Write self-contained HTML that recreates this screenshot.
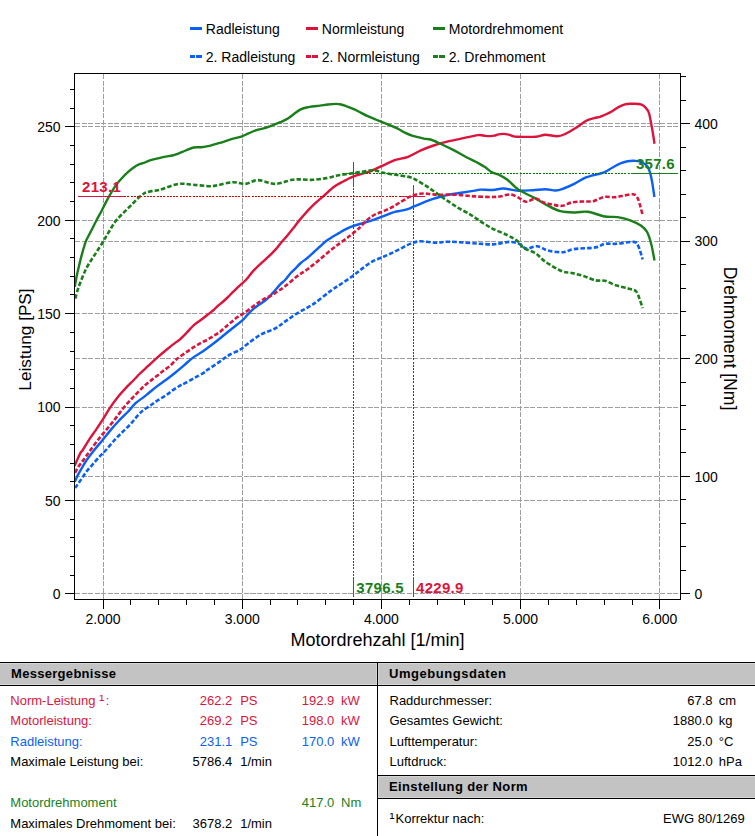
<!DOCTYPE html>
<html><head><meta charset="utf-8"><title>Leistungsdiagramm</title>
<style>
html,body{margin:0;padding:0;background:#fff;}
body{width:755px;height:836px;position:relative;overflow:hidden;font-family:"Liberation Sans", sans-serif;}
.hd{position:absolute;height:22px;background:#c3c3c3;border-top:1px solid #000;border-bottom:1px solid #000;box-shadow:inset 0 0 0 1px #d6d6d6;}
.hd span{position:absolute;top:3px;font-weight:bold;font-size:13px;line-height:16px;color:#000;}
.vl{position:absolute;width:1px;background:#000;}
.t{position:absolute;font-size:13px;line-height:15px;white-space:nowrap;}
</style></head>
<body>
<svg width="755" height="655" viewBox="0 0 755 655" style="position:absolute;left:0;top:0"><defs><clipPath id="pc"><rect x="75" y="74" width="605" height="525"/></clipPath></defs><g stroke="#9e9e9e" stroke-width="1" stroke-dasharray="5,1.5" shape-rendering="crispEdges"><line x1="103.5" y1="74" x2="103.5" y2="599" /><line x1="242.5" y1="74" x2="242.5" y2="599" /><line x1="381.5" y1="74" x2="381.5" y2="599" /><line x1="520.5" y1="74" x2="520.5" y2="599" /><line x1="659.5" y1="74" x2="659.5" y2="599" /><line x1="75" y1="593.5" x2="680" y2="593.5" /><line x1="75" y1="500.5" x2="680" y2="500.5" /><line x1="75" y1="407.5" x2="680" y2="407.5" /><line x1="75" y1="313.5" x2="680" y2="313.5" /><line x1="75" y1="220.5" x2="680" y2="220.5" /><line x1="75" y1="126.5" x2="680" y2="126.5" /><line x1="75" y1="476.5" x2="680" y2="476.5" /><line x1="75" y1="358.5" x2="680" y2="358.5" /><line x1="75" y1="241.5" x2="680" y2="241.5" /><line x1="75" y1="123.5" x2="680" y2="123.5" /></g><g clip-path="url(#pc)"><path d="M74.80,481.80 C75.32,480.65 76.67,477.28 77.90,474.90 C79.13,472.52 80.68,470.07 82.20,467.50 C83.72,464.93 85.05,462.33 87.00,459.50 C88.95,456.67 91.20,453.87 93.90,450.50 C96.60,447.13 100.42,442.70 103.20,439.30 C105.98,435.90 107.98,433.18 110.60,430.10 C113.22,427.02 115.97,423.90 118.90,420.80 C121.83,417.70 125.42,414.43 128.20,411.50 C130.98,408.57 133.13,405.52 135.60,403.20 C138.07,400.88 140.85,399.27 143.00,397.60 C145.15,395.93 146.13,395.12 148.50,393.20 C150.87,391.28 154.20,388.38 157.20,386.10 C160.20,383.82 163.40,381.82 166.50,379.50 C169.60,377.18 172.93,374.52 175.80,372.20 C178.67,369.88 180.83,368.03 183.70,365.60 C186.57,363.17 189.90,359.92 193.00,357.60 C196.10,355.28 199.22,353.80 202.30,351.70 C205.38,349.60 208.42,347.33 211.50,345.00 C214.58,342.67 217.72,340.17 220.80,337.70 C223.88,335.23 227.27,332.40 230.00,330.20 C232.73,328.00 235.10,326.17 237.20,324.50 C239.30,322.83 240.82,321.88 242.60,320.20 C244.38,318.52 246.05,316.32 247.90,314.40 C249.75,312.48 251.67,310.43 253.70,308.70 C255.73,306.97 257.95,305.55 260.10,304.00 C262.25,302.45 264.45,301.30 266.60,299.40 C268.75,297.50 270.77,295.05 273.00,292.60 C275.23,290.15 277.98,286.80 280.00,284.70 C282.02,282.60 283.42,281.82 285.10,280.00 C286.78,278.18 288.43,275.67 290.10,273.80 C291.77,271.93 293.32,270.60 295.10,268.80 C296.88,267.00 298.77,264.80 300.80,263.00 C302.83,261.20 305.27,259.67 307.30,258.00 C309.33,256.33 310.88,254.92 313.00,253.00 C315.12,251.08 317.75,248.53 320.00,246.50 C322.25,244.47 323.65,242.85 326.50,240.80 C329.35,238.75 333.78,236.18 337.10,234.20 C340.42,232.22 343.53,230.33 346.40,228.90 C349.27,227.47 351.43,226.60 354.30,225.60 C357.17,224.60 360.28,223.90 363.60,222.90 C366.92,221.90 370.67,220.82 374.20,219.60 C377.73,218.38 381.98,216.67 384.80,215.60 C387.62,214.53 389.40,213.83 391.10,213.20 C392.80,212.57 393.28,212.22 395.00,211.80 C396.72,211.38 399.28,211.15 401.40,210.70 C403.52,210.25 405.68,209.77 407.70,209.10 C409.72,208.43 411.38,207.58 413.50,206.70 C415.62,205.82 418.18,204.72 420.40,203.80 C422.62,202.88 424.68,202.02 426.80,201.20 C428.92,200.38 430.98,199.60 433.10,198.90 C435.22,198.20 437.37,197.58 439.50,197.00 C441.63,196.42 443.43,195.93 445.90,195.40 C448.37,194.87 451.48,194.28 454.30,193.80 C457.12,193.32 459.35,193.03 462.80,192.50 C466.25,191.97 472.10,191.08 475.00,190.60 C477.90,190.12 477.22,189.70 480.20,189.60 C483.18,189.50 489.02,190.18 492.90,190.00 C496.78,189.82 499.27,188.38 503.50,188.50 C507.73,188.62 513.43,190.42 518.30,190.70 C523.17,190.98 528.18,190.45 532.70,190.20 C537.22,189.95 541.58,189.15 545.40,189.20 C549.22,189.25 552.57,190.62 555.60,190.50 C558.63,190.38 560.50,189.60 563.60,188.50 C566.70,187.40 570.67,185.67 574.20,183.90 C577.73,182.13 582.17,179.18 584.80,177.90 C587.43,176.62 588.15,176.73 590.00,176.20 C591.85,175.67 594.23,175.13 595.90,174.70 C597.57,174.27 598.45,174.08 600.00,173.60 C601.55,173.12 603.02,172.87 605.20,171.80 C607.38,170.73 610.45,168.63 613.10,167.20 C615.75,165.77 618.67,164.20 621.10,163.20 C623.53,162.20 625.28,161.58 627.70,161.20 C630.12,160.82 633.17,160.68 635.60,160.90 C638.03,161.12 640.32,161.57 642.30,162.50 C644.28,163.43 646.18,164.73 647.50,166.50 C648.82,168.27 649.42,170.45 650.20,173.10 C650.98,175.75 651.50,178.42 652.20,182.40 C652.90,186.38 654.03,194.57 654.40,197.00" fill="none" stroke="#0a5ff5" stroke-width="2.4" stroke-linejoin="round"/><path d="M74.60,465.90 C74.98,465.02 75.90,462.82 76.90,460.60 C77.90,458.38 79.62,454.37 80.60,452.60 C81.58,450.83 81.35,452.22 82.80,450.00 C84.25,447.78 87.13,442.62 89.30,439.30 C91.47,435.98 93.48,433.50 95.80,430.10 C98.12,426.70 100.73,422.77 103.20,418.90 C105.67,415.03 107.98,410.75 110.60,406.90 C113.22,403.05 116.27,399.05 118.90,395.80 C121.53,392.55 123.92,390.03 126.40,387.40 C128.88,384.77 131.53,382.32 133.80,380.00 C136.07,377.68 137.65,375.80 140.00,373.50 C142.35,371.20 145.03,368.85 147.90,366.20 C150.77,363.55 154.10,360.35 157.20,357.60 C160.30,354.85 163.40,352.23 166.50,349.70 C169.60,347.17 173.55,344.12 175.80,342.40 C178.05,340.68 178.10,341.10 180.00,339.40 C181.90,337.70 184.93,334.53 187.20,332.20 C189.47,329.87 191.33,327.43 193.60,325.40 C195.87,323.37 198.52,321.73 200.80,320.00 C203.08,318.27 205.15,316.67 207.30,315.00 C209.45,313.33 212.12,311.37 213.70,310.00 C215.28,308.63 214.95,308.47 216.80,306.80 C218.65,305.13 222.60,301.97 224.80,300.00 C227.00,298.03 227.93,297.02 230.00,295.00 C232.07,292.98 234.57,290.40 237.20,287.90 C239.83,285.40 243.03,282.92 245.80,280.00 C248.57,277.08 250.47,273.88 253.80,270.40 C257.13,266.92 263.10,261.63 265.80,259.10 C268.50,256.57 268.35,256.82 270.00,255.20 C271.65,253.58 273.78,251.57 275.70,249.40 C277.62,247.23 279.58,244.47 281.50,242.20 C283.42,239.93 285.28,238.07 287.20,235.80 C289.12,233.53 290.87,231.30 293.00,228.60 C295.13,225.90 296.85,223.30 300.00,219.60 C303.15,215.90 307.93,210.37 311.90,206.40 C315.87,202.43 320.05,199.12 323.80,195.80 C327.55,192.48 331.08,188.93 334.40,186.50 C337.72,184.07 340.60,182.85 343.70,181.20 C346.80,179.55 349.98,177.83 353.00,176.60 C356.02,175.37 359.02,174.65 361.80,173.80 C364.58,172.95 367.05,172.48 369.70,171.50 C372.35,170.52 375.05,169.10 377.70,167.90 C380.35,166.70 382.65,165.63 385.60,164.30 C388.55,162.97 391.65,161.15 395.40,159.90 C399.15,158.65 403.85,158.38 408.10,156.80 C412.35,155.22 416.65,152.28 420.90,150.40 C425.15,148.52 429.37,146.92 433.60,145.50 C437.83,144.08 441.72,143.03 446.30,141.90 C450.88,140.77 455.80,139.83 461.10,138.70 C466.40,137.57 474.07,135.57 478.10,135.10 C482.13,134.63 483.22,135.73 485.30,135.90 C487.38,136.07 489.10,136.13 490.60,136.10 C492.10,136.07 492.98,135.98 494.30,135.70 C495.62,135.42 497.00,134.70 498.50,134.40 C500.00,134.10 501.62,133.87 503.30,133.90 C504.98,133.93 507.02,134.25 508.60,134.60 C510.18,134.95 511.38,135.65 512.80,136.00 C514.22,136.35 513.25,136.58 517.10,136.70 C520.95,136.82 531.22,137.03 535.90,136.70 C540.58,136.37 541.67,134.77 545.20,134.70 C548.73,134.63 553.80,136.40 557.10,136.30 C560.40,136.20 561.92,135.47 565.00,134.10 C568.08,132.73 572.07,130.32 575.60,128.10 C579.13,125.88 583.10,122.45 586.20,120.80 C589.30,119.15 591.90,118.87 594.20,118.20 C596.50,117.53 598.10,117.42 600.00,116.80 C601.90,116.18 603.58,115.43 605.60,114.50 C607.62,113.57 609.95,112.43 612.10,111.20 C614.25,109.97 616.35,108.25 618.50,107.10 C620.65,105.95 622.83,104.85 625.00,104.30 C627.17,103.75 629.18,103.85 631.50,103.80 C633.82,103.75 636.88,103.68 638.90,104.00 C640.92,104.32 642.20,104.73 643.60,105.70 C645.00,106.67 646.38,108.50 647.30,109.80 C648.22,111.10 648.57,111.80 649.10,113.50 C649.63,115.20 650.03,117.68 650.50,120.00 C650.97,122.32 651.43,124.77 651.90,127.40 C652.37,130.03 652.87,133.08 653.30,135.80 C653.73,138.52 654.30,142.38 654.50,143.70" fill="none" stroke="#dc143c" stroke-width="2.4" stroke-linejoin="round"/><path d="M74.80,286.90 C75.12,285.08 75.97,279.63 76.70,276.00 C77.43,272.37 78.37,268.58 79.20,265.10 C80.03,261.62 80.80,258.45 81.70,255.10 C82.60,251.75 83.82,247.52 84.60,245.00 C85.38,242.48 85.30,242.37 86.40,240.00 C87.50,237.63 89.60,233.93 91.20,230.80 C92.80,227.67 94.25,224.55 96.00,221.20 C97.75,217.85 99.95,214.05 101.70,210.70 C103.45,207.35 104.90,204.13 106.50,201.10 C108.10,198.07 109.70,195.20 111.30,192.50 C112.90,189.80 114.35,187.28 116.10,184.90 C117.85,182.52 119.88,180.28 121.80,178.20 C123.72,176.12 125.68,174.15 127.60,172.40 C129.52,170.65 131.40,169.05 133.30,167.70 C135.20,166.35 137.22,165.10 139.00,164.30 C140.78,163.50 142.18,163.55 144.00,162.90 C145.82,162.25 146.72,161.37 149.90,160.40 C153.08,159.43 159.35,157.92 163.10,157.10 C166.85,156.28 169.97,156.05 172.40,155.50 C174.83,154.95 175.50,154.63 177.70,153.80 C179.90,152.97 182.95,151.55 185.60,150.50 C188.25,149.45 190.95,148.05 193.60,147.50 C196.25,146.95 198.85,147.48 201.50,147.20 C204.15,146.92 206.40,146.53 209.50,145.80 C212.60,145.07 216.68,143.83 220.10,142.80 C223.52,141.77 226.37,140.68 230.00,139.60 C233.63,138.52 238.82,137.33 241.90,136.30 C244.98,135.27 246.07,134.43 248.50,133.40 C250.93,132.37 253.85,130.98 256.50,130.10 C259.15,129.22 261.53,128.98 264.40,128.10 C267.27,127.22 271.05,125.78 273.70,124.80 C276.35,123.82 277.87,123.30 280.30,122.20 C282.73,121.10 284.98,120.30 288.30,118.20 C291.62,116.10 296.67,111.48 300.20,109.60 C303.73,107.72 306.20,107.57 309.50,106.90 C312.80,106.23 316.93,106.00 320.00,105.60 C323.07,105.20 325.25,104.78 327.90,104.50 C330.55,104.22 333.68,103.90 335.90,103.90 C338.12,103.90 339.43,104.10 341.20,104.50 C342.97,104.90 344.30,105.50 346.50,106.30 C348.70,107.10 351.97,108.20 354.40,109.30 C356.83,110.40 358.88,111.75 361.10,112.90 C363.32,114.05 365.28,115.10 367.70,116.20 C370.12,117.30 373.17,118.50 375.60,119.50 C378.03,120.50 380.08,121.32 382.30,122.20 C384.52,123.08 386.48,123.82 388.90,124.80 C391.32,125.78 394.15,126.78 396.80,128.10 C399.45,129.42 402.15,131.42 404.80,132.70 C407.45,133.98 410.17,134.98 412.70,135.80 C415.23,136.62 417.93,137.08 420.00,137.60 C422.07,138.12 423.33,138.58 425.10,138.90 C426.87,139.22 428.13,138.73 430.60,139.50 C433.07,140.27 436.15,141.77 439.90,143.50 C443.65,145.23 448.68,147.62 453.10,149.90 C457.52,152.18 462.20,155.00 466.40,157.20 C470.60,159.40 475.22,161.45 478.30,163.10 C481.38,164.75 482.70,165.60 484.90,167.10 C487.10,168.60 489.07,170.78 491.50,172.10 C493.93,173.42 496.85,173.73 499.50,175.00 C502.15,176.27 504.27,177.27 507.40,179.70 C510.53,182.13 513.73,186.53 518.30,189.60 C522.87,192.67 529.93,195.45 534.80,198.10 C539.67,200.75 543.25,203.32 547.50,205.50 C551.75,207.68 555.70,210.03 560.30,211.20 C564.90,212.37 570.52,212.40 575.10,212.50 C579.68,212.60 582.85,211.13 587.80,211.80 C592.75,212.47 599.85,215.62 604.80,216.50 C609.75,217.38 613.27,216.47 617.50,217.10 C621.73,217.73 626.32,218.88 630.20,220.30 C634.08,221.72 637.98,223.65 640.80,225.60 C643.62,227.55 645.33,228.82 647.10,232.00 C648.87,235.18 650.17,239.95 651.40,244.70 C652.63,249.45 653.98,257.87 654.50,260.50" fill="none" stroke="#1a7f1a" stroke-width="2.4" stroke-linejoin="round"/><path d="M75.00,488.10 C75.75,487.05 77.68,484.43 79.50,481.80 C81.32,479.17 83.77,475.13 85.90,472.30 C88.03,469.47 90.00,467.45 92.30,464.80 C94.60,462.15 97.42,458.87 99.70,456.40 C101.98,453.93 103.57,452.68 106.00,450.00 C108.43,447.32 111.53,443.32 114.30,440.30 C117.07,437.28 119.82,434.68 122.60,431.90 C125.38,429.12 128.33,426.50 131.00,423.60 C133.67,420.70 136.38,416.85 138.60,414.50 C140.82,412.15 142.27,411.05 144.30,409.50 C146.33,407.95 148.88,406.52 150.80,405.20 C152.72,403.88 154.00,402.80 155.80,401.60 C157.60,400.40 159.68,399.20 161.60,398.00 C163.52,396.80 165.40,395.72 167.30,394.40 C169.20,393.08 170.88,391.57 173.00,390.10 C175.12,388.63 178.00,386.75 180.00,385.60 C182.00,384.45 182.62,384.45 185.00,383.20 C187.38,381.95 191.20,379.83 194.30,378.10 C197.40,376.37 201.57,374.07 203.60,372.80 C205.63,371.53 205.05,371.52 206.50,370.50 C207.95,369.48 210.27,368.05 212.30,366.70 C214.33,365.35 216.67,363.83 218.70,362.40 C220.73,360.97 222.62,359.42 224.50,358.10 C226.38,356.78 227.42,355.90 230.00,354.50 C232.58,353.10 237.43,351.20 240.00,349.70 C242.57,348.20 242.02,347.97 245.40,345.50 C248.78,343.03 255.35,337.73 260.30,334.90 C265.25,332.07 270.87,330.80 275.10,328.50 C279.33,326.20 281.82,323.75 285.70,321.10 C289.58,318.45 293.82,315.42 298.40,312.60 C302.98,309.78 307.83,307.82 313.20,304.20 C318.57,300.58 325.72,294.43 330.60,290.90 C335.48,287.37 338.75,285.53 342.50,283.00 C346.25,280.47 349.78,278.13 353.10,275.70 C356.42,273.27 359.30,270.72 362.40,268.40 C365.50,266.08 368.62,263.57 371.70,261.80 C374.78,260.03 377.82,259.13 380.90,257.80 C383.98,256.47 386.88,255.35 390.20,253.80 C393.52,252.25 397.48,250.15 400.80,248.50 C404.12,246.85 406.90,245.10 410.10,243.90 C413.30,242.70 415.73,241.50 420.00,241.30 C424.27,241.10 430.97,242.63 435.70,242.70 C440.43,242.77 443.45,241.70 448.40,241.70 C453.35,241.70 460.10,242.35 465.40,242.70 C470.70,243.05 475.62,243.52 480.20,243.80 C484.78,244.08 489.60,244.47 492.90,244.40 C496.20,244.33 497.23,243.82 500.00,243.40 C502.77,242.98 506.32,241.83 509.50,241.90 C512.68,241.97 516.32,242.68 519.10,243.80 C521.88,244.92 523.22,248.20 526.20,248.60 C529.18,249.00 533.42,245.88 537.00,246.20 C540.58,246.52 543.33,249.50 547.70,250.50 C552.07,251.50 558.83,252.43 563.20,252.20 C567.57,251.97 568.53,249.90 573.90,249.10 C579.27,248.30 590.23,248.28 595.40,247.40 C600.57,246.52 601.33,244.40 604.90,243.80 C608.47,243.20 612.03,244.12 616.80,243.80 C621.57,243.48 629.92,241.50 633.50,241.90 C637.08,242.30 636.78,243.30 638.30,246.20 C639.82,249.10 641.88,257.12 642.60,259.30" fill="none" stroke="#0a5ff5" stroke-width="2.6" stroke-linejoin="round" stroke-dasharray="4.5,2.1"/><path d="M75.00,472.80 C75.48,471.92 76.78,469.27 77.90,467.50 C79.02,465.73 80.45,463.88 81.70,462.20 C82.95,460.52 83.98,459.35 85.40,457.40 C86.82,455.45 88.02,453.52 90.20,450.50 C92.38,447.48 95.72,442.87 98.50,439.30 C101.28,435.73 104.12,432.50 106.90,429.10 C109.68,425.70 112.42,422.45 115.20,418.90 C117.98,415.35 120.82,411.20 123.60,407.80 C126.38,404.40 129.28,401.33 131.90,398.50 C134.52,395.67 137.35,392.80 139.30,390.80 C141.25,388.80 142.03,387.93 143.60,386.50 C145.17,385.07 147.02,383.57 148.70,382.20 C150.38,380.83 151.92,379.67 153.70,378.30 C155.48,376.93 157.62,375.38 159.40,374.00 C161.18,372.62 162.60,371.38 164.40,370.00 C166.20,368.62 168.40,367.25 170.20,365.70 C172.00,364.15 174.05,361.85 175.20,360.70 C176.35,359.55 176.30,359.48 177.10,358.80 C177.90,358.12 178.32,357.80 180.00,356.60 C181.68,355.40 184.82,353.22 187.20,351.60 C189.58,349.98 191.92,348.40 194.30,346.90 C196.68,345.40 199.22,343.85 201.50,342.60 C203.78,341.35 205.97,340.53 208.00,339.40 C210.03,338.27 211.78,337.00 213.70,335.80 C215.62,334.60 217.70,333.52 219.50,332.20 C221.30,330.88 222.75,329.38 224.50,327.90 C226.25,326.42 227.88,325.07 230.00,323.30 C232.12,321.53 234.82,319.02 237.20,317.30 C239.58,315.58 241.67,314.80 244.30,313.00 C246.93,311.20 250.37,308.42 253.00,306.50 C255.63,304.58 257.95,302.93 260.10,301.50 C262.25,300.07 263.98,298.92 265.90,297.90 C267.82,296.88 269.70,296.47 271.60,295.40 C273.50,294.33 275.18,292.90 277.30,291.50 C279.42,290.10 281.15,289.42 284.30,287.00 C287.45,284.58 292.45,279.88 296.20,277.00 C299.95,274.12 303.27,272.28 306.80,269.70 C310.33,267.12 313.68,264.55 317.40,261.50 C321.12,258.45 325.38,254.42 329.10,251.40 C332.82,248.38 336.17,246.05 339.70,243.40 C343.23,240.75 347.20,237.92 350.30,235.50 C353.40,233.08 356.68,230.25 358.30,228.90 C359.92,227.55 358.62,228.80 360.00,227.40 C361.38,226.00 364.40,222.48 366.60,220.50 C368.80,218.52 370.98,216.83 373.20,215.50 C375.42,214.17 377.68,213.43 379.90,212.50 C382.12,211.57 384.30,210.88 386.50,209.90 C388.70,208.92 390.90,207.82 393.10,206.60 C395.30,205.38 397.48,203.93 399.70,202.60 C401.92,201.27 404.68,199.60 406.40,198.60 C408.12,197.60 408.82,197.17 410.00,196.60 C411.18,196.03 411.93,195.67 413.50,195.20 C415.07,194.73 417.37,194.07 419.40,193.80 C421.43,193.53 423.58,193.52 425.70,193.60 C427.82,193.68 429.80,194.10 432.10,194.30 C434.40,194.50 436.85,194.75 439.50,194.80 C442.15,194.85 445.17,194.60 448.00,194.60 C450.83,194.60 453.68,194.67 456.50,194.80 C459.32,194.93 461.82,195.13 464.90,195.40 C467.98,195.67 470.68,196.13 475.00,196.40 C479.32,196.67 486.63,196.98 490.80,197.00 C494.97,197.02 496.70,196.92 500.00,196.50 C503.30,196.08 507.28,194.17 510.60,194.50 C513.92,194.83 517.25,197.28 519.90,198.50 C522.55,199.72 523.85,201.80 526.50,201.80 C529.15,201.80 532.93,198.38 535.80,198.50 C538.67,198.62 540.83,201.47 543.70,202.50 C546.57,203.53 549.90,204.15 553.00,204.70 C556.10,205.25 559.22,206.17 562.30,205.80 C565.38,205.43 568.20,203.22 571.50,202.50 C574.80,201.78 578.48,201.72 582.10,201.50 C585.72,201.28 589.58,201.95 593.20,201.20 C596.82,200.45 600.27,197.67 603.80,197.00 C607.33,196.33 611.08,197.43 614.40,197.20 C617.72,196.97 620.60,196.08 623.70,195.60 C626.80,195.12 630.78,194.07 633.00,194.30 C635.22,194.53 635.90,195.45 637.00,197.00 C638.10,198.55 638.67,200.60 639.60,203.60 C640.53,206.60 642.10,213.10 642.60,215.00" fill="none" stroke="#dc143c" stroke-width="2.6" stroke-linejoin="round" stroke-dasharray="4.5,2.1"/><path d="M75.20,298.60 C75.73,296.78 77.17,291.33 78.40,287.70 C79.63,284.07 81.22,280.15 82.60,276.80 C83.98,273.45 85.17,270.53 86.70,267.60 C88.23,264.67 90.12,261.85 91.80,259.20 C93.48,256.55 94.85,254.73 96.80,251.70 C98.75,248.67 101.57,244.17 103.50,241.00 C105.43,237.83 106.62,235.68 108.40,232.70 C110.18,229.72 112.28,225.82 114.20,223.10 C116.12,220.38 117.83,218.63 119.90,216.40 C121.97,214.17 124.37,211.93 126.60,209.70 C128.83,207.47 131.23,205.07 133.30,203.00 C135.37,200.93 137.22,198.88 139.00,197.30 C140.78,195.72 142.77,194.32 144.00,193.50 C145.23,192.68 144.93,192.85 146.40,192.40 C147.87,191.95 150.68,191.20 152.80,190.80 C154.92,190.40 154.88,191.13 159.10,190.00 C163.32,188.87 172.47,184.88 178.10,184.00 C183.73,183.12 187.60,184.33 192.90,184.70 C198.20,185.07 205.67,186.13 209.90,186.20 C214.13,186.27 214.50,185.77 218.30,185.10 C222.10,184.43 228.18,182.40 232.70,182.20 C237.22,182.00 241.17,184.25 245.40,183.90 C249.63,183.55 253.15,180.10 258.10,180.10 C263.05,180.10 269.45,183.95 275.10,183.90 C280.75,183.85 287.85,180.55 292.00,179.80 C296.15,179.05 296.47,179.40 300.00,179.40 C303.53,179.40 308.78,180.02 313.20,179.80 C317.62,179.58 322.52,178.80 326.50,178.10 C330.48,177.40 333.78,176.27 337.10,175.60 C340.42,174.93 343.32,174.57 346.40,174.10 C349.48,173.63 352.73,173.23 355.60,172.80 C358.47,172.37 360.95,171.93 363.60,171.50 C366.25,171.07 369.30,170.32 371.50,170.20 C373.70,170.08 375.03,170.40 376.80,170.80 C378.57,171.20 379.88,172.07 382.10,172.60 C384.32,173.13 387.53,173.60 390.10,174.00 C392.67,174.40 394.13,174.45 397.50,175.00 C400.87,175.55 407.18,176.47 410.30,177.30 C413.42,178.13 413.45,178.48 416.20,180.00 C418.95,181.52 423.27,184.10 426.80,186.40 C430.33,188.70 433.87,191.33 437.40,193.80 C440.93,196.27 444.47,198.82 448.00,201.20 C451.53,203.58 455.07,205.98 458.60,208.10 C462.13,210.22 466.47,212.32 469.20,213.90 C471.93,215.48 471.40,215.30 475.00,217.60 C478.60,219.90 485.35,224.75 490.80,227.70 C496.25,230.65 503.12,232.97 507.70,235.30 C512.28,237.63 515.62,239.57 518.30,241.70 C520.98,243.83 520.88,246.15 523.80,248.10 C526.72,250.05 532.22,251.13 535.80,253.40 C539.38,255.67 540.93,258.72 545.30,261.70 C549.67,264.68 557.63,269.43 562.00,271.30 C566.37,273.17 567.92,272.12 571.50,272.90 C575.08,273.68 579.52,274.77 583.50,276.00 C587.48,277.23 591.83,279.50 595.40,280.30 C598.97,281.10 601.33,279.92 604.90,280.80 C608.47,281.68 612.82,284.28 616.80,285.60 C620.78,286.92 625.62,287.78 628.80,288.70 C631.98,289.62 634.12,289.43 635.90,291.10 C637.68,292.77 638.38,295.85 639.50,298.70 C640.62,301.55 642.08,306.62 642.60,308.20" fill="none" stroke="#1a7f1a" stroke-width="2.6" stroke-linejoin="round" stroke-dasharray="4.5,2.1"/></g><g shape-rendering="crispEdges"><rect x="78" y="196" width="46" height="1" fill="#dc143c"/><rect x="124" y="196" width="2" height="1" fill="#d80000"/><rect x="127" y="196" width="2" height="1" fill="#d80000"/><rect x="131" y="196" width="2" height="1" fill="#d80000"/><rect x="134" y="196" width="2" height="1" fill="#d80000"/><rect x="137" y="196" width="2" height="1" fill="#d80000"/><rect x="140" y="196" width="2" height="1" fill="#d80000"/><rect x="144" y="196" width="2" height="1" fill="#d80000"/><rect x="147" y="196" width="2" height="1" fill="#d80000"/><rect x="150" y="196" width="2" height="1" fill="#d80000"/><rect x="153" y="196" width="2" height="1" fill="#d80000"/><rect x="157" y="196" width="2" height="1" fill="#d80000"/><rect x="160" y="196" width="2" height="1" fill="#d80000"/><rect x="163" y="196" width="2" height="1" fill="#d80000"/><rect x="167" y="196" width="2" height="1" fill="#d80000"/><rect x="170" y="196" width="2" height="1" fill="#d80000"/><rect x="173" y="196" width="2" height="1" fill="#d80000"/><rect x="176" y="196" width="2" height="1" fill="#d80000"/><rect x="180" y="196" width="2" height="1" fill="#d80000"/><rect x="183" y="196" width="2" height="1" fill="#d80000"/><rect x="186" y="196" width="2" height="1" fill="#d80000"/><rect x="189" y="196" width="2" height="1" fill="#d80000"/><rect x="193" y="196" width="2" height="1" fill="#d80000"/><rect x="196" y="196" width="2" height="1" fill="#d80000"/><rect x="199" y="196" width="2" height="1" fill="#d80000"/><rect x="202" y="196" width="2" height="1" fill="#d80000"/><rect x="206" y="196" width="2" height="1" fill="#d80000"/><rect x="209" y="196" width="2" height="1" fill="#d80000"/><rect x="212" y="196" width="2" height="1" fill="#d80000"/><rect x="216" y="196" width="2" height="1" fill="#d80000"/><rect x="219" y="196" width="2" height="1" fill="#d80000"/><rect x="222" y="196" width="2" height="1" fill="#d80000"/><rect x="225" y="196" width="2" height="1" fill="#d80000"/><rect x="229" y="196" width="2" height="1" fill="#d80000"/><rect x="232" y="196" width="2" height="1" fill="#d80000"/><rect x="235" y="196" width="2" height="1" fill="#d80000"/><rect x="238" y="196" width="2" height="1" fill="#d80000"/><rect x="242" y="196" width="2" height="1" fill="#d80000"/><rect x="245" y="196" width="2" height="1" fill="#d80000"/><rect x="248" y="196" width="2" height="1" fill="#d80000"/><rect x="252" y="196" width="2" height="1" fill="#d80000"/><rect x="255" y="196" width="2" height="1" fill="#d80000"/><rect x="258" y="196" width="2" height="1" fill="#d80000"/><rect x="261" y="196" width="2" height="1" fill="#d80000"/><rect x="265" y="196" width="2" height="1" fill="#d80000"/><rect x="268" y="196" width="2" height="1" fill="#d80000"/><rect x="271" y="196" width="2" height="1" fill="#d80000"/><rect x="274" y="196" width="2" height="1" fill="#d80000"/><rect x="278" y="196" width="2" height="1" fill="#d80000"/><rect x="281" y="196" width="2" height="1" fill="#d80000"/><rect x="284" y="196" width="2" height="1" fill="#d80000"/><rect x="288" y="196" width="2" height="1" fill="#d80000"/><rect x="291" y="196" width="2" height="1" fill="#d80000"/><rect x="294" y="196" width="2" height="1" fill="#d80000"/><rect x="297" y="196" width="2" height="1" fill="#d80000"/><rect x="301" y="196" width="2" height="1" fill="#d80000"/><rect x="304" y="196" width="2" height="1" fill="#d80000"/><rect x="307" y="196" width="2" height="1" fill="#d80000"/><rect x="310" y="196" width="2" height="1" fill="#d80000"/><rect x="314" y="196" width="2" height="1" fill="#d80000"/><rect x="317" y="196" width="2" height="1" fill="#d80000"/><rect x="320" y="196" width="2" height="1" fill="#d80000"/><rect x="323" y="196" width="2" height="1" fill="#d80000"/><rect x="327" y="196" width="2" height="1" fill="#d80000"/><rect x="330" y="196" width="2" height="1" fill="#d80000"/><rect x="333" y="196" width="2" height="1" fill="#d80000"/><rect x="337" y="196" width="2" height="1" fill="#d80000"/><rect x="340" y="196" width="2" height="1" fill="#d80000"/><rect x="343" y="196" width="2" height="1" fill="#d80000"/><rect x="346" y="196" width="2" height="1" fill="#d80000"/><rect x="350" y="196" width="2" height="1" fill="#d80000"/><rect x="353" y="196" width="2" height="1" fill="#d80000"/><rect x="356" y="196" width="2" height="1" fill="#d80000"/><rect x="359" y="196" width="2" height="1" fill="#d80000"/><rect x="363" y="196" width="2" height="1" fill="#d80000"/><rect x="366" y="196" width="2" height="1" fill="#d80000"/><rect x="369" y="196" width="2" height="1" fill="#d80000"/><rect x="373" y="196" width="2" height="1" fill="#d80000"/><rect x="376" y="196" width="2" height="1" fill="#d80000"/><rect x="379" y="196" width="2" height="1" fill="#d80000"/><rect x="382" y="196" width="2" height="1" fill="#d80000"/><rect x="386" y="196" width="2" height="1" fill="#d80000"/><rect x="389" y="196" width="2" height="1" fill="#d80000"/><rect x="392" y="196" width="2" height="1" fill="#d80000"/><rect x="395" y="196" width="2" height="1" fill="#d80000"/><rect x="399" y="196" width="2" height="1" fill="#d80000"/><rect x="401" y="196" width="24" height="1" fill="#dc143c"/><rect x="413" y="185" width="1" height="22" fill="#dc143c"/><rect x="413" y="208" width="1" height="2" fill="#d80000"/><rect x="413" y="211" width="1" height="2" fill="#d80000"/><rect x="413" y="215" width="1" height="2" fill="#d80000"/><rect x="413" y="218" width="1" height="2" fill="#d80000"/><rect x="413" y="221" width="1" height="2" fill="#d80000"/><rect x="413" y="224" width="1" height="2" fill="#d80000"/><rect x="413" y="228" width="1" height="2" fill="#d80000"/><rect x="413" y="231" width="1" height="2" fill="#d80000"/><rect x="413" y="234" width="1" height="2" fill="#d80000"/><rect x="413" y="237" width="1" height="2" fill="#d80000"/><rect x="413" y="241" width="1" height="2" fill="#d80000"/><rect x="413" y="244" width="1" height="2" fill="#d80000"/><rect x="413" y="247" width="1" height="2" fill="#d80000"/><rect x="413" y="251" width="1" height="2" fill="#d80000"/><rect x="413" y="254" width="1" height="2" fill="#d80000"/><rect x="413" y="257" width="1" height="2" fill="#d80000"/><rect x="413" y="260" width="1" height="2" fill="#d80000"/><rect x="413" y="264" width="1" height="2" fill="#d80000"/><rect x="413" y="267" width="1" height="2" fill="#d80000"/><rect x="413" y="270" width="1" height="2" fill="#d80000"/><rect x="413" y="273" width="1" height="2" fill="#d80000"/><rect x="413" y="277" width="1" height="2" fill="#d80000"/><rect x="413" y="280" width="1" height="2" fill="#d80000"/><rect x="413" y="283" width="1" height="2" fill="#d80000"/><rect x="413" y="286" width="1" height="2" fill="#d80000"/><rect x="413" y="290" width="1" height="2" fill="#d80000"/><rect x="413" y="293" width="1" height="2" fill="#d80000"/><rect x="413" y="296" width="1" height="2" fill="#d80000"/><rect x="413" y="300" width="1" height="2" fill="#d80000"/><rect x="413" y="303" width="1" height="2" fill="#d80000"/><rect x="413" y="306" width="1" height="2" fill="#d80000"/><rect x="413" y="309" width="1" height="2" fill="#d80000"/><rect x="413" y="313" width="1" height="2" fill="#d80000"/><rect x="413" y="316" width="1" height="2" fill="#d80000"/><rect x="413" y="319" width="1" height="2" fill="#d80000"/><rect x="413" y="322" width="1" height="2" fill="#d80000"/><rect x="413" y="326" width="1" height="2" fill="#d80000"/><rect x="413" y="329" width="1" height="2" fill="#d80000"/><rect x="413" y="332" width="1" height="2" fill="#d80000"/><rect x="413" y="336" width="1" height="2" fill="#d80000"/><rect x="413" y="339" width="1" height="2" fill="#d80000"/><rect x="413" y="342" width="1" height="2" fill="#d80000"/><rect x="413" y="345" width="1" height="2" fill="#d80000"/><rect x="413" y="349" width="1" height="2" fill="#d80000"/><rect x="413" y="352" width="1" height="2" fill="#d80000"/><rect x="413" y="355" width="1" height="2" fill="#d80000"/><rect x="413" y="358" width="1" height="2" fill="#d80000"/><rect x="413" y="362" width="1" height="2" fill="#d80000"/><rect x="413" y="365" width="1" height="2" fill="#d80000"/><rect x="413" y="368" width="1" height="2" fill="#d80000"/><rect x="413" y="371" width="1" height="2" fill="#d80000"/><rect x="413" y="375" width="1" height="2" fill="#d80000"/><rect x="413" y="378" width="1" height="2" fill="#d80000"/><rect x="413" y="381" width="1" height="2" fill="#d80000"/><rect x="413" y="385" width="1" height="2" fill="#d80000"/><rect x="413" y="388" width="1" height="2" fill="#d80000"/><rect x="413" y="391" width="1" height="2" fill="#d80000"/><rect x="413" y="394" width="1" height="2" fill="#d80000"/><rect x="413" y="398" width="1" height="2" fill="#d80000"/><rect x="413" y="401" width="1" height="2" fill="#d80000"/><rect x="413" y="404" width="1" height="2" fill="#d80000"/><rect x="413" y="407" width="1" height="2" fill="#d80000"/><rect x="413" y="411" width="1" height="2" fill="#d80000"/><rect x="413" y="414" width="1" height="2" fill="#d80000"/><rect x="413" y="417" width="1" height="2" fill="#d80000"/><rect x="413" y="421" width="1" height="2" fill="#d80000"/><rect x="413" y="424" width="1" height="2" fill="#d80000"/><rect x="413" y="427" width="1" height="2" fill="#d80000"/><rect x="413" y="430" width="1" height="2" fill="#d80000"/><rect x="413" y="434" width="1" height="2" fill="#d80000"/><rect x="413" y="437" width="1" height="2" fill="#d80000"/><rect x="413" y="440" width="1" height="2" fill="#d80000"/><rect x="413" y="443" width="1" height="2" fill="#d80000"/><rect x="413" y="447" width="1" height="2" fill="#d80000"/><rect x="413" y="450" width="1" height="2" fill="#d80000"/><rect x="413" y="453" width="1" height="2" fill="#d80000"/><rect x="413" y="457" width="1" height="2" fill="#d80000"/><rect x="413" y="460" width="1" height="2" fill="#d80000"/><rect x="413" y="463" width="1" height="2" fill="#d80000"/><rect x="413" y="466" width="1" height="2" fill="#d80000"/><rect x="413" y="470" width="1" height="2" fill="#d80000"/><rect x="413" y="473" width="1" height="2" fill="#d80000"/><rect x="413" y="476" width="1" height="2" fill="#d80000"/><rect x="413" y="479" width="1" height="2" fill="#d80000"/><rect x="413" y="483" width="1" height="2" fill="#d80000"/><rect x="413" y="486" width="1" height="2" fill="#d80000"/><rect x="413" y="489" width="1" height="2" fill="#d80000"/><rect x="413" y="492" width="1" height="2" fill="#d80000"/><rect x="413" y="496" width="1" height="2" fill="#d80000"/><rect x="413" y="499" width="1" height="2" fill="#d80000"/><rect x="413" y="502" width="1" height="2" fill="#d80000"/><rect x="413" y="506" width="1" height="2" fill="#d80000"/><rect x="413" y="509" width="1" height="2" fill="#d80000"/><rect x="413" y="512" width="1" height="2" fill="#d80000"/><rect x="413" y="515" width="1" height="2" fill="#d80000"/><rect x="413" y="519" width="1" height="2" fill="#d80000"/><rect x="413" y="522" width="1" height="2" fill="#d80000"/><rect x="413" y="525" width="1" height="2" fill="#d80000"/><rect x="413" y="528" width="1" height="2" fill="#d80000"/><rect x="413" y="532" width="1" height="2" fill="#d80000"/><rect x="413" y="535" width="1" height="2" fill="#d80000"/><rect x="413" y="538" width="1" height="2" fill="#d80000"/><rect x="413" y="542" width="1" height="2" fill="#d80000"/><rect x="413" y="545" width="1" height="2" fill="#d80000"/><rect x="413" y="548" width="1" height="2" fill="#d80000"/><rect x="413" y="551" width="1" height="2" fill="#d80000"/><rect x="413" y="555" width="1" height="2" fill="#d80000"/><rect x="413" y="558" width="1" height="2" fill="#d80000"/><rect x="413" y="561" width="1" height="2" fill="#d80000"/><rect x="413" y="564" width="1" height="2" fill="#d80000"/><rect x="413" y="568" width="1" height="2" fill="#d80000"/><rect x="413" y="571" width="1" height="2" fill="#d80000"/><rect x="413" y="574" width="1" height="2" fill="#d80000"/><rect x="413" y="577" width="1" height="20" fill="#dc143c"/><rect x="342" y="173" width="23" height="1" fill="#1a7f1a"/><rect x="353" y="162" width="1" height="25" fill="#1a7f1a"/><rect x="366" y="173" width="2" height="1" fill="#007a00"/><rect x="369" y="173" width="2" height="1" fill="#007a00"/><rect x="373" y="173" width="2" height="1" fill="#007a00"/><rect x="376" y="173" width="2" height="1" fill="#007a00"/><rect x="379" y="173" width="2" height="1" fill="#007a00"/><rect x="382" y="173" width="2" height="1" fill="#007a00"/><rect x="386" y="173" width="2" height="1" fill="#007a00"/><rect x="389" y="173" width="2" height="1" fill="#007a00"/><rect x="392" y="173" width="2" height="1" fill="#007a00"/><rect x="395" y="173" width="2" height="1" fill="#007a00"/><rect x="399" y="173" width="2" height="1" fill="#007a00"/><rect x="402" y="173" width="2" height="1" fill="#007a00"/><rect x="405" y="173" width="2" height="1" fill="#007a00"/><rect x="409" y="173" width="2" height="1" fill="#007a00"/><rect x="412" y="173" width="2" height="1" fill="#007a00"/><rect x="415" y="173" width="2" height="1" fill="#007a00"/><rect x="418" y="173" width="2" height="1" fill="#007a00"/><rect x="422" y="173" width="2" height="1" fill="#007a00"/><rect x="425" y="173" width="2" height="1" fill="#007a00"/><rect x="428" y="173" width="2" height="1" fill="#007a00"/><rect x="431" y="173" width="2" height="1" fill="#007a00"/><rect x="435" y="173" width="2" height="1" fill="#007a00"/><rect x="438" y="173" width="2" height="1" fill="#007a00"/><rect x="441" y="173" width="2" height="1" fill="#007a00"/><rect x="444" y="173" width="2" height="1" fill="#007a00"/><rect x="448" y="173" width="2" height="1" fill="#007a00"/><rect x="451" y="173" width="2" height="1" fill="#007a00"/><rect x="454" y="173" width="2" height="1" fill="#007a00"/><rect x="458" y="173" width="2" height="1" fill="#007a00"/><rect x="461" y="173" width="2" height="1" fill="#007a00"/><rect x="464" y="173" width="2" height="1" fill="#007a00"/><rect x="467" y="173" width="2" height="1" fill="#007a00"/><rect x="471" y="173" width="2" height="1" fill="#007a00"/><rect x="474" y="173" width="2" height="1" fill="#007a00"/><rect x="477" y="173" width="2" height="1" fill="#007a00"/><rect x="480" y="173" width="2" height="1" fill="#007a00"/><rect x="484" y="173" width="2" height="1" fill="#007a00"/><rect x="487" y="173" width="2" height="1" fill="#007a00"/><rect x="490" y="173" width="2" height="1" fill="#007a00"/><rect x="494" y="173" width="2" height="1" fill="#007a00"/><rect x="497" y="173" width="2" height="1" fill="#007a00"/><rect x="500" y="173" width="2" height="1" fill="#007a00"/><rect x="503" y="173" width="2" height="1" fill="#007a00"/><rect x="507" y="173" width="2" height="1" fill="#007a00"/><rect x="510" y="173" width="2" height="1" fill="#007a00"/><rect x="513" y="173" width="2" height="1" fill="#007a00"/><rect x="516" y="173" width="2" height="1" fill="#007a00"/><rect x="520" y="173" width="2" height="1" fill="#007a00"/><rect x="523" y="173" width="2" height="1" fill="#007a00"/><rect x="526" y="173" width="2" height="1" fill="#007a00"/><rect x="529" y="173" width="2" height="1" fill="#007a00"/><rect x="533" y="173" width="2" height="1" fill="#007a00"/><rect x="536" y="173" width="2" height="1" fill="#007a00"/><rect x="539" y="173" width="2" height="1" fill="#007a00"/><rect x="543" y="173" width="2" height="1" fill="#007a00"/><rect x="546" y="173" width="2" height="1" fill="#007a00"/><rect x="549" y="173" width="2" height="1" fill="#007a00"/><rect x="552" y="173" width="2" height="1" fill="#007a00"/><rect x="556" y="173" width="2" height="1" fill="#007a00"/><rect x="559" y="173" width="2" height="1" fill="#007a00"/><rect x="562" y="173" width="2" height="1" fill="#007a00"/><rect x="565" y="173" width="2" height="1" fill="#007a00"/><rect x="569" y="173" width="2" height="1" fill="#007a00"/><rect x="572" y="173" width="2" height="1" fill="#007a00"/><rect x="575" y="173" width="2" height="1" fill="#007a00"/><rect x="579" y="173" width="2" height="1" fill="#007a00"/><rect x="582" y="173" width="2" height="1" fill="#007a00"/><rect x="585" y="173" width="2" height="1" fill="#007a00"/><rect x="588" y="173" width="2" height="1" fill="#007a00"/><rect x="592" y="173" width="2" height="1" fill="#007a00"/><rect x="595" y="173" width="2" height="1" fill="#007a00"/><rect x="598" y="173" width="2" height="1" fill="#007a00"/><rect x="601" y="173" width="2" height="1" fill="#007a00"/><rect x="605" y="173" width="2" height="1" fill="#007a00"/><rect x="608" y="173" width="2" height="1" fill="#007a00"/><rect x="611" y="173" width="2" height="1" fill="#007a00"/><rect x="615" y="173" width="2" height="1" fill="#007a00"/><rect x="618" y="173" width="2" height="1" fill="#007a00"/><rect x="621" y="173" width="2" height="1" fill="#007a00"/><rect x="624" y="173" width="2" height="1" fill="#007a00"/><rect x="628" y="173" width="2" height="1" fill="#007a00"/><rect x="631" y="173" width="47" height="1" fill="#1a7f1a"/><rect x="353" y="188" width="1" height="2" fill="#007a00"/><rect x="353" y="191" width="1" height="2" fill="#007a00"/><rect x="353" y="195" width="1" height="2" fill="#007a00"/><rect x="353" y="198" width="1" height="2" fill="#007a00"/><rect x="353" y="201" width="1" height="2" fill="#007a00"/><rect x="353" y="204" width="1" height="2" fill="#007a00"/><rect x="353" y="208" width="1" height="2" fill="#007a00"/><rect x="353" y="211" width="1" height="2" fill="#007a00"/><rect x="353" y="214" width="1" height="2" fill="#007a00"/><rect x="353" y="217" width="1" height="2" fill="#007a00"/><rect x="353" y="221" width="1" height="2" fill="#007a00"/><rect x="353" y="224" width="1" height="2" fill="#007a00"/><rect x="353" y="227" width="1" height="2" fill="#007a00"/><rect x="353" y="231" width="1" height="2" fill="#007a00"/><rect x="353" y="234" width="1" height="2" fill="#007a00"/><rect x="353" y="237" width="1" height="2" fill="#007a00"/><rect x="353" y="240" width="1" height="2" fill="#007a00"/><rect x="353" y="244" width="1" height="2" fill="#007a00"/><rect x="353" y="247" width="1" height="2" fill="#007a00"/><rect x="353" y="250" width="1" height="2" fill="#007a00"/><rect x="353" y="253" width="1" height="2" fill="#007a00"/><rect x="353" y="257" width="1" height="2" fill="#007a00"/><rect x="353" y="260" width="1" height="2" fill="#007a00"/><rect x="353" y="263" width="1" height="2" fill="#007a00"/><rect x="353" y="266" width="1" height="2" fill="#007a00"/><rect x="353" y="270" width="1" height="2" fill="#007a00"/><rect x="353" y="273" width="1" height="2" fill="#007a00"/><rect x="353" y="276" width="1" height="2" fill="#007a00"/><rect x="353" y="280" width="1" height="2" fill="#007a00"/><rect x="353" y="283" width="1" height="2" fill="#007a00"/><rect x="353" y="286" width="1" height="2" fill="#007a00"/><rect x="353" y="289" width="1" height="2" fill="#007a00"/><rect x="353" y="293" width="1" height="2" fill="#007a00"/><rect x="353" y="296" width="1" height="2" fill="#007a00"/><rect x="353" y="299" width="1" height="2" fill="#007a00"/><rect x="353" y="302" width="1" height="2" fill="#007a00"/><rect x="353" y="306" width="1" height="2" fill="#007a00"/><rect x="353" y="309" width="1" height="2" fill="#007a00"/><rect x="353" y="312" width="1" height="2" fill="#007a00"/><rect x="353" y="316" width="1" height="2" fill="#007a00"/><rect x="353" y="319" width="1" height="2" fill="#007a00"/><rect x="353" y="322" width="1" height="2" fill="#007a00"/><rect x="353" y="325" width="1" height="2" fill="#007a00"/><rect x="353" y="329" width="1" height="2" fill="#007a00"/><rect x="353" y="332" width="1" height="2" fill="#007a00"/><rect x="353" y="335" width="1" height="2" fill="#007a00"/><rect x="353" y="338" width="1" height="2" fill="#007a00"/><rect x="353" y="342" width="1" height="2" fill="#007a00"/><rect x="353" y="345" width="1" height="2" fill="#007a00"/><rect x="353" y="348" width="1" height="2" fill="#007a00"/><rect x="353" y="351" width="1" height="2" fill="#007a00"/><rect x="353" y="355" width="1" height="2" fill="#007a00"/><rect x="353" y="358" width="1" height="2" fill="#007a00"/><rect x="353" y="361" width="1" height="2" fill="#007a00"/><rect x="353" y="365" width="1" height="2" fill="#007a00"/><rect x="353" y="368" width="1" height="2" fill="#007a00"/><rect x="353" y="371" width="1" height="2" fill="#007a00"/><rect x="353" y="374" width="1" height="2" fill="#007a00"/><rect x="353" y="378" width="1" height="2" fill="#007a00"/><rect x="353" y="381" width="1" height="2" fill="#007a00"/><rect x="353" y="384" width="1" height="2" fill="#007a00"/><rect x="353" y="387" width="1" height="2" fill="#007a00"/><rect x="353" y="391" width="1" height="2" fill="#007a00"/><rect x="353" y="394" width="1" height="2" fill="#007a00"/><rect x="353" y="397" width="1" height="2" fill="#007a00"/><rect x="353" y="401" width="1" height="2" fill="#007a00"/><rect x="353" y="404" width="1" height="2" fill="#007a00"/><rect x="353" y="407" width="1" height="2" fill="#007a00"/><rect x="353" y="410" width="1" height="2" fill="#007a00"/><rect x="353" y="414" width="1" height="2" fill="#007a00"/><rect x="353" y="417" width="1" height="2" fill="#007a00"/><rect x="353" y="420" width="1" height="2" fill="#007a00"/><rect x="353" y="423" width="1" height="2" fill="#007a00"/><rect x="353" y="427" width="1" height="2" fill="#007a00"/><rect x="353" y="430" width="1" height="2" fill="#007a00"/><rect x="353" y="433" width="1" height="2" fill="#007a00"/><rect x="353" y="437" width="1" height="2" fill="#007a00"/><rect x="353" y="440" width="1" height="2" fill="#007a00"/><rect x="353" y="443" width="1" height="2" fill="#007a00"/><rect x="353" y="446" width="1" height="2" fill="#007a00"/><rect x="353" y="450" width="1" height="2" fill="#007a00"/><rect x="353" y="453" width="1" height="2" fill="#007a00"/><rect x="353" y="456" width="1" height="2" fill="#007a00"/><rect x="353" y="459" width="1" height="2" fill="#007a00"/><rect x="353" y="463" width="1" height="2" fill="#007a00"/><rect x="353" y="466" width="1" height="2" fill="#007a00"/><rect x="353" y="469" width="1" height="2" fill="#007a00"/><rect x="353" y="472" width="1" height="2" fill="#007a00"/><rect x="353" y="476" width="1" height="2" fill="#007a00"/><rect x="353" y="479" width="1" height="2" fill="#007a00"/><rect x="353" y="482" width="1" height="2" fill="#007a00"/><rect x="353" y="486" width="1" height="2" fill="#007a00"/><rect x="353" y="489" width="1" height="2" fill="#007a00"/><rect x="353" y="492" width="1" height="2" fill="#007a00"/><rect x="353" y="495" width="1" height="2" fill="#007a00"/><rect x="353" y="499" width="1" height="2" fill="#007a00"/><rect x="353" y="502" width="1" height="2" fill="#007a00"/><rect x="353" y="505" width="1" height="2" fill="#007a00"/><rect x="353" y="508" width="1" height="2" fill="#007a00"/><rect x="353" y="512" width="1" height="2" fill="#007a00"/><rect x="353" y="515" width="1" height="2" fill="#007a00"/><rect x="353" y="518" width="1" height="2" fill="#007a00"/><rect x="353" y="522" width="1" height="2" fill="#007a00"/><rect x="353" y="525" width="1" height="2" fill="#007a00"/><rect x="353" y="528" width="1" height="2" fill="#007a00"/><rect x="353" y="531" width="1" height="2" fill="#007a00"/><rect x="353" y="535" width="1" height="2" fill="#007a00"/><rect x="353" y="538" width="1" height="2" fill="#007a00"/><rect x="353" y="541" width="1" height="2" fill="#007a00"/><rect x="353" y="544" width="1" height="2" fill="#007a00"/><rect x="353" y="548" width="1" height="2" fill="#007a00"/><rect x="353" y="551" width="1" height="2" fill="#007a00"/><rect x="353" y="554" width="1" height="2" fill="#007a00"/><rect x="353" y="558" width="1" height="2" fill="#007a00"/><rect x="353" y="561" width="1" height="2" fill="#007a00"/><rect x="353" y="564" width="1" height="2" fill="#007a00"/><rect x="353" y="567" width="1" height="2" fill="#007a00"/><rect x="353" y="571" width="1" height="2" fill="#007a00"/><rect x="353" y="574" width="1" height="2" fill="#007a00"/><rect x="353" y="577" width="1" height="20" fill="#1a7f1a"/></g><rect x="74.5" y="73.5" width="606" height="526" fill="none" stroke="#000" stroke-width="1" shape-rendering="crispEdges"/><g stroke="#000" stroke-width="1" shape-rendering="crispEdges"><line x1="65" y1="593.5" x2="74" y2="593.5"/><line x1="69.5" y1="575.5" x2="74" y2="575.5"/><line x1="69.5" y1="556.5" x2="74" y2="556.5"/><line x1="69.5" y1="537.5" x2="74" y2="537.5"/><line x1="69.5" y1="519.5" x2="74" y2="519.5"/><line x1="65" y1="500.5" x2="74" y2="500.5"/><line x1="69.5" y1="481.5" x2="74" y2="481.5"/><line x1="69.5" y1="463.5" x2="74" y2="463.5"/><line x1="69.5" y1="444.5" x2="74" y2="444.5"/><line x1="69.5" y1="425.5" x2="74" y2="425.5"/><line x1="65" y1="407.5" x2="74" y2="407.5"/><line x1="69.5" y1="388.5" x2="74" y2="388.5"/><line x1="69.5" y1="369.5" x2="74" y2="369.5"/><line x1="69.5" y1="351.5" x2="74" y2="351.5"/><line x1="69.5" y1="332.5" x2="74" y2="332.5"/><line x1="65" y1="313.5" x2="74" y2="313.5"/><line x1="69.5" y1="294.5" x2="74" y2="294.5"/><line x1="69.5" y1="276.5" x2="74" y2="276.5"/><line x1="69.5" y1="257.5" x2="74" y2="257.5"/><line x1="69.5" y1="238.5" x2="74" y2="238.5"/><line x1="65" y1="220.5" x2="74" y2="220.5"/><line x1="69.5" y1="201.5" x2="74" y2="201.5"/><line x1="69.5" y1="182.5" x2="74" y2="182.5"/><line x1="69.5" y1="164.5" x2="74" y2="164.5"/><line x1="69.5" y1="145.5" x2="74" y2="145.5"/><line x1="65" y1="126.5" x2="74" y2="126.5"/><line x1="69.5" y1="108.5" x2="74" y2="108.5"/><line x1="69.5" y1="89.5" x2="74" y2="89.5"/><line x1="681" y1="593.5" x2="690" y2="593.5"/><line x1="681" y1="570.5" x2="686" y2="570.5"/><line x1="681" y1="546.5" x2="686" y2="546.5"/><line x1="681" y1="523.5" x2="686" y2="523.5"/><line x1="681" y1="499.5" x2="686" y2="499.5"/><line x1="681" y1="476.5" x2="690" y2="476.5"/><line x1="681" y1="452.5" x2="686" y2="452.5"/><line x1="681" y1="429.5" x2="686" y2="429.5"/><line x1="681" y1="405.5" x2="686" y2="405.5"/><line x1="681" y1="382.5" x2="686" y2="382.5"/><line x1="681" y1="358.5" x2="690" y2="358.5"/><line x1="681" y1="335.5" x2="686" y2="335.5"/><line x1="681" y1="311.5" x2="686" y2="311.5"/><line x1="681" y1="288.5" x2="686" y2="288.5"/><line x1="681" y1="264.5" x2="686" y2="264.5"/><line x1="681" y1="241.5" x2="690" y2="241.5"/><line x1="681" y1="217.5" x2="686" y2="217.5"/><line x1="681" y1="194.5" x2="686" y2="194.5"/><line x1="681" y1="170.5" x2="686" y2="170.5"/><line x1="681" y1="147.5" x2="686" y2="147.5"/><line x1="681" y1="123.5" x2="690" y2="123.5"/><line x1="681" y1="100.5" x2="686" y2="100.5"/><line x1="681" y1="76.5" x2="686" y2="76.5"/><line x1="103.5" y1="600" x2="103.5" y2="609"/><line x1="130.5" y1="600" x2="130.5" y2="605"/><line x1="158.5" y1="600" x2="158.5" y2="605"/><line x1="186.5" y1="600" x2="186.5" y2="605"/><line x1="214.5" y1="600" x2="214.5" y2="605"/><line x1="242.5" y1="600" x2="242.5" y2="609"/><line x1="270.5" y1="600" x2="270.5" y2="605"/><line x1="297.5" y1="600" x2="297.5" y2="605"/><line x1="325.5" y1="600" x2="325.5" y2="605"/><line x1="353.5" y1="600" x2="353.5" y2="605"/><line x1="381.5" y1="600" x2="381.5" y2="609"/><line x1="409.5" y1="600" x2="409.5" y2="605"/><line x1="437.5" y1="600" x2="437.5" y2="605"/><line x1="464.5" y1="600" x2="464.5" y2="605"/><line x1="492.5" y1="600" x2="492.5" y2="605"/><line x1="520.5" y1="600" x2="520.5" y2="609"/><line x1="548.5" y1="600" x2="548.5" y2="605"/><line x1="576.5" y1="600" x2="576.5" y2="605"/><line x1="604.5" y1="600" x2="604.5" y2="605"/><line x1="632.5" y1="600" x2="632.5" y2="605"/><line x1="659.5" y1="600" x2="659.5" y2="609"/></g><g font-family='"Liberation Sans", sans-serif' font-size="14" fill="#000"><text x="60.5" y="599.1" text-anchor="end">0</text><text x="60.5" y="505.8" text-anchor="end">50</text><text x="60.5" y="412.4" text-anchor="end">100</text><text x="60.5" y="319.0" text-anchor="end">150</text><text x="60.5" y="225.6" text-anchor="end">200</text><text x="60.5" y="132.2" text-anchor="end">250</text><text x="694.5" y="599.1">0</text><text x="694.5" y="481.5">100</text><text x="694.5" y="364.0">200</text><text x="694.5" y="246.4">300</text><text x="694.5" y="128.9">400</text><text x="103.0" y="623.7" text-anchor="middle">2.000</text><text x="242.2" y="623.7" text-anchor="middle">3.000</text><text x="381.4" y="623.7" text-anchor="middle">4.000</text><text x="520.6" y="623.7" text-anchor="middle">5.000</text><text x="659.8" y="623.7" text-anchor="middle">6.000</text></g><text x="377.5" y="645.6" text-anchor="middle" font-family='"Liberation Sans", sans-serif' font-size="18" fill="#000">Motordrehzahl [1/min]</text><text transform="translate(31.4,339.5) rotate(-90)" text-anchor="middle" font-family='"Liberation Sans", sans-serif' font-size="17.2" fill="#000">Leistung [PS]</text><text transform="translate(723.5,338.5) rotate(90)" text-anchor="middle" font-family='"Liberation Sans", sans-serif' font-size="17.6" fill="#000">Drehmoment [Nm]</text><g font-family='"Liberation Sans", sans-serif' font-size="15" font-weight="bold" letter-spacing="0.3"><text x="82" y="192.2" fill="#dc143c">213.1</text><text x="356.3" y="592.8" fill="#1a7f1a">3796.5</text><text x="416" y="592.8" fill="#dc143c">4229.9</text><text x="635.9" y="168.8" fill="#1a7f1a">357.6</text></g><rect x="190" y="27" width="12" height="3" fill="#0a5ff5"/><text x="205.8" y="34" font-family='"Liberation Sans", sans-serif' font-size="14" fill="#000">Radleistung</text><rect x="306" y="27" width="12" height="3" fill="#dc143c"/><text x="321.8" y="34" font-family='"Liberation Sans", sans-serif' font-size="14" fill="#000">Normleistung</text><rect x="433" y="27" width="12" height="3" fill="#1a7f1a"/><text x="448.8" y="34" font-family='"Liberation Sans", sans-serif' font-size="14" fill="#000">Motordrehmoment</text><rect x="190" y="55" width="5" height="3" fill="#0a5ff5"/><rect x="196" y="55" width="6" height="3" fill="#0a5ff5"/><text x="205.8" y="62" font-family='"Liberation Sans", sans-serif' font-size="14" fill="#000">2. Radleistung</text><rect x="306" y="55" width="5" height="3" fill="#dc143c"/><rect x="312" y="55" width="6" height="3" fill="#dc143c"/><text x="321.8" y="62" font-family='"Liberation Sans", sans-serif' font-size="14" fill="#000">2. Normleistung</text><rect x="433" y="55" width="5" height="3" fill="#1a7f1a"/><rect x="439" y="55" width="6" height="3" fill="#1a7f1a"/><text x="448.8" y="62" font-family='"Liberation Sans", sans-serif' font-size="14" fill="#000">2. Drehmoment</text></svg>

<div class="tb">
  <div class="hd" style="left:-1px;top:662px;width:378px;"><span style="left:12px;letter-spacing:0.3px">Messergebnisse</span></div>
  <div class="hd" style="left:377px;top:662px;width:378px;border-left:1px solid #000;"><span style="left:11px;letter-spacing:0.55px">Umgebungsdaten</span></div>
  <div class="vl" style="left:377px;top:685px;height:151px"></div>
  <div class="hd" style="left:377px;top:775px;width:378px;border-left:1px solid #000;"><span style="left:11px;letter-spacing:0.38px">Einstellung der Norm</span></div>
</div>

<div class="t" style="left:10.3px;top:692.8px;color:#dc143c">Norm-Leistung <span style="font-size:15px;line-height:0;margin-right:1.5px">¹</span>:</div><div class="t" style="left:10.3px;top:713.3px;color:#dc143c">Motorleistung:</div><div class="t" style="left:10.3px;top:733.8px;color:#0a5ff5">Radleistung:</div><div class="t" style="left:10.3px;top:754.3px;color:#000">Maximale Leistung bei:</div><div class="t" style="left:10.3px;top:795.3px;color:#1a7f1a">Motordrehmoment</div><div class="t" style="left:10.3px;top:815.8px;color:#000">Maximales Drehmoment bei:</div><div class="t" style="right:522.7px;top:692.8px;color:#dc143c">262.2</div><div class="t" style="left:240.2px;top:692.8px;color:#dc143c">PS</div><div class="t" style="right:420.7px;top:692.8px;color:#dc143c">192.9</div><div class="t" style="left:341.0px;top:692.8px;color:#dc143c">kW</div><div class="t" style="right:522.7px;top:713.3px;color:#dc143c">269.2</div><div class="t" style="left:240.2px;top:713.3px;color:#dc143c">PS</div><div class="t" style="right:420.7px;top:713.3px;color:#dc143c">198.0</div><div class="t" style="left:341.0px;top:713.3px;color:#dc143c">kW</div><div class="t" style="right:522.7px;top:733.8px;color:#0a5ff5">231.1</div><div class="t" style="left:240.2px;top:733.8px;color:#0a5ff5">PS</div><div class="t" style="right:420.7px;top:733.8px;color:#0a5ff5">170.0</div><div class="t" style="left:341.0px;top:733.8px;color:#0a5ff5">kW</div><div class="t" style="right:522.7px;top:754.3px;color:#000">5786.4</div><div class="t" style="left:240.2px;top:754.3px;color:#000">1/min</div><div class="t" style="right:420.7px;top:795.3px;color:#1a7f1a">417.0</div><div class="t" style="left:341.0px;top:795.3px;color:#1a7f1a">Nm</div><div class="t" style="right:522.7px;top:815.8px;color:#000">3678.2</div><div class="t" style="left:240.2px;top:815.8px;color:#000">1/min</div><div class="t" style="left:389.5px;top:692.8px;color:#000">Raddurchmesser:</div><div class="t" style="right:42.39999999999998px;top:692.8px;color:#000">67.8</div><div class="t" style="left:718.8px;top:692.8px;color:#000">cm</div><div class="t" style="left:389.5px;top:713.3px;color:#000">Gesamtes Gewicht:</div><div class="t" style="right:42.39999999999998px;top:713.3px;color:#000">1880.0</div><div class="t" style="left:718.8px;top:713.3px;color:#000">kg</div><div class="t" style="left:389.5px;top:733.8px;color:#000">Lufttemperatur:</div><div class="t" style="right:42.39999999999998px;top:733.8px;color:#000">25.0</div><div class="t" style="left:718.8px;top:733.8px;color:#000">°C</div><div class="t" style="left:389.5px;top:754.3px;color:#000">Luftdruck:</div><div class="t" style="right:42.39999999999998px;top:754.3px;color:#000">1012.0</div><div class="t" style="left:718.8px;top:754.3px;color:#000">hPa</div><div class="t" style="left:389.5px;top:810.8px;color:#000"><span style="font-size:15px;line-height:0;margin-right:1px">¹</span>Korrektur nach:</div><div class="t" style="right:10.299999999999955px;top:810.8px;color:#000">EWG 80/1269</div>
</body></html>
